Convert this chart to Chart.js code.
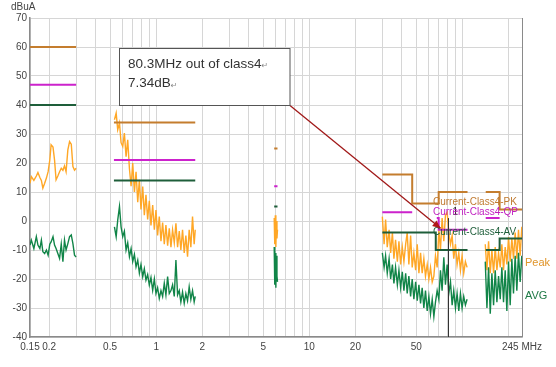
<!DOCTYPE html>
<html>
<head>
<meta charset="utf-8">
<script src="https://cdn.jsdelivr.net/npm/chart.js@4.4.1/dist/chart.umd.min.js"></script>
<style>
  html, body { margin: 0; padding: 0; background: #fff; }
</style>
</head>
<body>
<canvas id="chart" width="556" height="367"></canvas>
<script>
// x axis (MHz, log) and y axis (dBuA)
const xTickLabels = [0.15, 0.2, 0.5, 1, 2, 5, 10, 20, 50, 245]
const xGridLines = [0.15, 0.2, 0.3, 0.4, 0.5, 0.6, 0.7, 0.8, 0.9, 1, 2, 3, 4, 5, 6, 7, 8, 9,
    10, 20, 30, 40, 50, 60, 70, 80, 90, 100, 200, 245]
const yMin = -40
const yMax = 70

// limit lines: band start, band stop, level
const pkStart = [0.15, 0.53, 5.9, 30, 47, 70, 142, 175]
const pkStop = [0.3, 1.8, 6.2, 47, 70, 108, 175, 245]
const pkLevel = [60, 34, 25, 16, 6, 10, 10, 4]

const qpStart = [0.15, 0.53, 5.9, 30, 68, 70, 142]
const qpStop = [0.3, 1.8, 6.2, 47, 70, 108, 175]
const qpLevel = [47, 21, 12, 3, 1, -3, 1]

const avStart = [0.15, 0.53, 5.9, 30, 67, 142, 175]
const avStop = [0.3, 1.8, 6.2, 67, 108, 175, 245]
const avLevel = [40, 14, 5, -4, -10, -10, -6]

// measured sweeps, one frequency list per band
const freq1 = [0.150, 0.153, 0.159, 0.165, 0.169, 0.174, 0.178, 0.182, 0.187, 0.192, 0.197, 0.202, 0.206, 0.212,
    0.217, 0.222, 0.228, 0.234, 0.240, 0.246, 0.252, 0.258, 0.265, 0.272, 0.279, 0.286, 0.293, 0.300]
const peak1 = [13, 15.3, 14, 15.5, 16.7, 15, 14, 11.3, 13, 14.8, 17, 21, 26.3, 25.5, 21, 14.2, 15.5, 17, 18.2, 17.5,
    19, 17, 24.5, 27.4, 26.5, 18.8, 17.5, 18.2]
const avg1 = [-8.3, -6.6, -9.5, -5.4, -8.3, -9.5, -6.6, -10.6, -11.2, -10, -11.8, -8, -7.2, -5.4, -8.3, -9.5, -11.2,
    -12.9, -8, -14, -6.6, -10, -7.8, -5.4, -4.8, -7.8, -11.8, -12.4]

const freq2 = [0.534, 0.548, 0.561, 0.576, 0.590, 0.605, 0.620, 0.636, 0.652, 0.669, 0.686, 0.703, 0.721, 0.739,
    0.758, 0.777, 0.796, 0.817, 0.837, 0.858, 0.880, 0.902, 0.925, 0.949, 0.973, 0.997, 1.022, 1.048, 1.075, 1.102,
    1.130, 1.158, 1.188, 1.218, 1.249, 1.280, 1.313, 1.346, 1.380, 1.415, 1.450, 1.487, 1.525, 1.563, 1.603, 1.643,
    1.685, 1.728, 1.771, 1.800]
const peak2 = [34.9, 37.2, 31.5, 33.8, 27, 25.7, 30.3, 22.2, 28, 18, 12, 20, 10, 17, 6.5, 14.2, 4, 11.9, 2, 9,
    0.5, 7, -1.5, 5.5, -3, 3.8, -5, 1.5, -7, -0.5, -8, -1.4, -8.5, -2.5, -9, -3, -7.5, -0.8, -9, -3.5, -10, -3,
    -11, -5, -12.3, -3, -9, 1.5, -8, -3]
const avg2 = [-2, -5.4, 0.3, 5, -2, -5.4, -3.5, -10, -7.5, -12.3, -9.5, -14, -11.5, -15.8, -13.5, -18, -15, -19.2,
    -16.5, -20.4, -18.5, -22.1, -19.5, -23.9, -20, -25, -23, -26.7, -24, -26, -21.5, -25.5, -19.2, -25, -24, -22, -26,
    -13.5, -25.5, -24, -27.9, -24.5, -28.4, -25, -27.5, -22.7, -27, -24, -27.9, -26]

const freq3 = [5.90, 5.95, 6.00, 6.05, 6.10, 6.15, 6.20]
const peak3 = [1, -8, 2, -9, 0, -6, -3]
const avg3 = [-9, -22, -11, -23, -12, -19, -21]

const freq4 = [30, 30.8, 31.5, 32.3, 33.2, 34, 34.9, 35.7, 36.6, 37.6, 38.5, 39.5, 40.5, 41.5, 42.6, 43.6, 44.7, 45.9,
    47, 48.2, 49.5, 50.7, 52, 53.3, 54.6, 56, 57.4, 58.9, 60.4, 61.9, 63.5, 65.1, 66.7, 68.4, 70.2, 71.9, 73.7, 75.6,
    77.5, 79.5, 81.5, 83.6, 85.7, 87.8, 90.1, 92.3, 94.7, 97.1, 99.5, 102, 104.6, 107.3]
const peak4 = [1.5, -8, 0.5, -9, -3, -11, -4, -13, -6.5, -14, -7, -15, -9, -14, -8, -4, -15, -5, -16, -11, -17, -8,
    -18, -11, -18, -13, -19, -15, -20, -16, -21, -19, -12, -16, -3, -10, 1, -7, 2, 3, -4, -8, -5, -13, -8, -15, -11,
    -17, -12, -18, -14, -16]
const avg4 = [-11, -16, -12, -18, -13, -20, -15, -21.5, -16, -22, -17, -23, -17.5, -24, -18, -25, -19, -26, -20, -27,
    -21, -27.5, -22, -28.4, -23, -30, -24, -31, -26, -32, -27, -33, -28, -24, -27, -17, -24, -12.5, -22, -15, -25, -21,
    -29, -24, -30, -25, -31, -25, -30, -26, -29, -27]

const freq5 = [141, 144.6, 148.2, 152, 155.8, 159.8, 163.8, 168, 172.2, 176.6, 181, 185.6, 190.3, 195.1, 200.1, 205.1,
    210.3, 215.6, 221.1, 226.7, 232.4, 238.3, 244.3]
const peak5 = [-8, -17, -7, -18, -10, -18, -9, -17, -11, -16, -8, -17, -9, -15, -5.5, -14, -6, -13, -4, -13, -3, -12, -2]
const avg5 = [-14, -30, -16, -32, -18, -29, -17, -28, -19, -27, -16, -28, -17, -31, -14, -29, -13, -25, -12, -24, -11,
    -21, -12]

// marker
const markerFreq = 80.3
const markerTop = 1
const arrowTip = { x: 72, y: -2.5 }

const limitPoints = (start, stop, level) => {
    const pts = []
    start.forEach((s, i) => {
        if (i > 0 && s !== stop[i - 1]) pts.push({ x: s, y: null })
        pts.push({ x: s, y: level[i] }, { x: stop[i], y: level[i] })
    })
    return pts
}

const tracePoints = (bands) => {
    const pts = []
    bands.forEach(([f, v], b) => {
        if (b > 0) pts.push({ x: f[0], y: null })
        f.forEach((x, i) => pts.push({ x, y: v[i] }))
    })
    return pts
}

const FONT = 'Liberation Sans, Arial, sans-serif'

const overlay = {
    id: 'overlay',
    afterDatasetsDraw(chart) {
        const { ctx } = chart
        const xs = chart.scales.x
        const ys = chart.scales.y
        ctx.save()

        // marker line
        const mx = Math.round(xs.getPixelForValue(markerFreq)) + 0.5
        ctx.strokeStyle = '#333'
        ctx.lineWidth = 1
        ctx.beginPath()
        ctx.moveTo(mx, ys.getPixelForValue(markerTop))
        ctx.lineTo(mx, ys.getPixelForValue(yMin))
        ctx.stroke()

        ctx.textBaseline = 'middle'
        ctx.textAlign = 'left'
        ctx.font = '10px ' + FONT
        ctx.fillStyle = '#222'
        ctx.fillText('1', mx + 4, ys.getPixelForValue(3))

        // limit names
        ctx.fillStyle = '#c07a30'
        ctx.fillText('Current-Class4-PK', 433, 202)
        ctx.fillStyle = '#c020c0'
        ctx.fillText('Current-Class4-QP', 433, 212.5)
        ctx.fillStyle = '#1e5e3a'
        ctx.fillText('Current-Class4-AV', 433, 232.5)

        ctx.font = '11px ' + FONT
        ctx.fillStyle = '#e0952a'
        ctx.fillText('Peak', 525, 262.5)
        ctx.fillStyle = '#1f7a46'
        ctx.fillText('AVG', 525, 296)

        // y unit
        ctx.font = '10px ' + FONT
        ctx.fillStyle = '#444'
        ctx.fillText('dBuA', 11, 7.5)

        // note box + arrow
        const bx = 119.5, by = 48.5, bw = 170.5, bh = 57
        const tx = xs.getPixelForValue(arrowTip.x)
        const ty = ys.getPixelForValue(arrowTip.y)
        const sx = bx + bw, sy = by + bh
        ctx.strokeStyle = '#a01818'
        ctx.lineWidth = 1.3
        ctx.beginPath()
        ctx.moveTo(sx, sy)
        ctx.lineTo(tx, ty)
        ctx.stroke()
        const ang = Math.atan2(ty - sy, tx - sx)
        ctx.fillStyle = '#b01818'
        ctx.beginPath()
        ctx.moveTo(tx, ty)
        ctx.lineTo(tx - 8 * Math.cos(ang) + 3.5 * Math.sin(ang), ty - 8 * Math.sin(ang) - 3.5 * Math.cos(ang))
        ctx.lineTo(tx - 8 * Math.cos(ang) - 3.5 * Math.sin(ang), ty - 8 * Math.sin(ang) + 3.5 * Math.cos(ang))
        ctx.closePath()
        ctx.fill()

        ctx.fillStyle = '#fff'
        ctx.fillRect(bx, by, bw, bh)
        ctx.strokeStyle = '#555'
        ctx.lineWidth = 1
        ctx.strokeRect(bx, by, bw, bh)

        ctx.font = '13.5px ' + FONT
        ctx.fillStyle = '#333'
        const l1 = '80.3MHz out of class4'
        const l2 = '7.34dB'
        ctx.fillText(l1, 128, 64)
        ctx.fillText(l2, 128, 83.5)
        const w1 = ctx.measureText(l1).width
        const w2 = ctx.measureText(l2).width
        ctx.font = '8px DejaVu Sans'
        ctx.fillStyle = '#888'
        ctx.fillText('\u21B5', 128 + w1, 66)
        ctx.fillText('\u21B5', 128 + w2, 85.5)

        ctx.restore()
    }
}

new Chart(document.getElementById('chart'), {
    type: 'line',
    data: {
        datasets: [
            {
                label: 'Current-Class4-PK',
                data: limitPoints(pkStart, pkStop, pkLevel),
                borderColor: '#c47d2e',
                borderWidth: 2,
                order: 0
            },
            {
                label: 'Current-Class4-QP',
                data: limitPoints(qpStart, qpStop, qpLevel),
                borderColor: '#cc22cc',
                borderWidth: 2,
                order: 0
            },
            {
                label: 'Current-Class4-AV',
                data: limitPoints(avStart, avStop, avLevel),
                borderColor: '#1e5e3a',
                borderWidth: 2,
                order: 0
            },
            {
                label: 'AVG',
                data: tracePoints([[freq1, avg1], [freq2, avg2], [freq3, avg3], [freq4, avg4], [freq5, avg5]]),
                borderColor: '#118548',
                borderWidth: 1.4,
                order: 1
            },
            {
                label: 'Peak',
                data: tracePoints([[freq1, peak1], [freq2, peak2], [freq3, peak3], [freq4, peak4], [freq5, peak5]]),
                borderColor: '#ffa726',
                borderWidth: 1.4,
                order: 2
            }
        ]
    },
    options: {
        responsive: false,
        animation: false,
        spanGaps: false,
        elements: { point: { radius: 0 }, line: { tension: 0 } },
        layout: { padding: { top: 18, right: 34, left: 0, bottom: 0 } },
        plugins: { legend: { display: false }, tooltip: { enabled: false } },
        scales: {
            x: {
                type: 'logarithmic',
                min: 0.15,
                max: 245,
                afterBuildTicks: (scale) => { scale.ticks = xGridLines.map(v => ({ value: v })) },
                afterFit: (scale) => { scale.height = 30 },
                ticks: {
                    autoSkip: false,
                    maxRotation: 0,
                    padding: 4,
                    color: '#444',
                    font: { family: FONT, size: 10 },
                    callback: (v) => xTickLabels.includes(v) ? (v === 245 ? '245 MHz' : String(v)) : ''
                },
                grid: {
                    drawTicks: false,
                    color: (c) => c.tick && c.tick.value === 245 ? '#8a8a8a' : '#d6d6d6'
                },
                border: { color: '#8a8a8a', width: 1.5 }
            },
            y: {
                min: yMin,
                max: yMax,
                afterFit: (scale) => { scale.width = 30 },
                ticks: {
                    stepSize: 10,
                    padding: 3,
                    color: '#444',
                    font: { family: FONT, size: 10 }
                },
                grid: { drawTicks: false, color: '#d6d6d6' },
                border: { color: '#8a8a8a', width: 1.5 }
            }
        }
    },
    plugins: [overlay]
})
</script>
</body>
</html>
